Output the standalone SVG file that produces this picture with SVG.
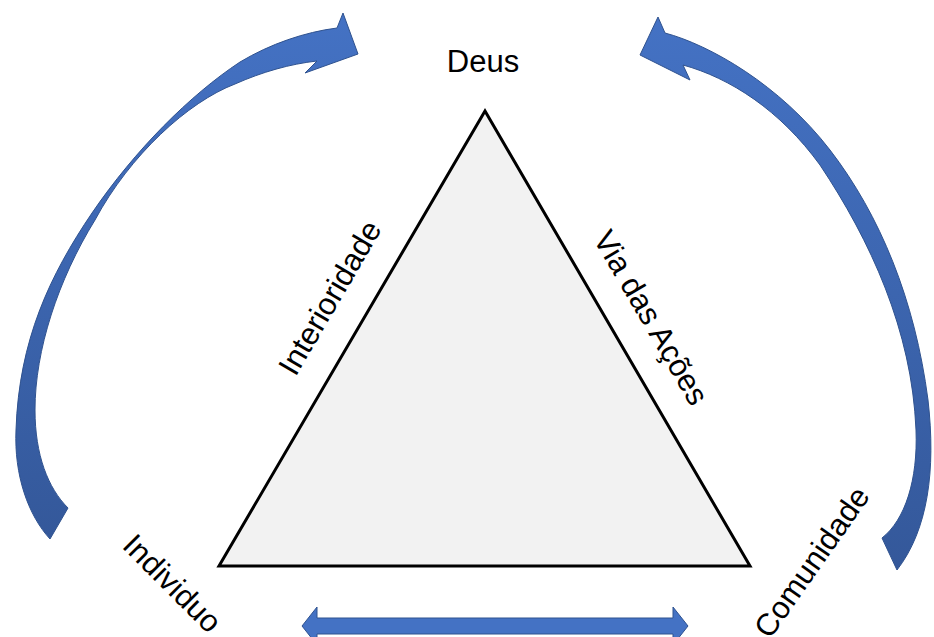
<svg xmlns="http://www.w3.org/2000/svg" width="934" height="637" viewBox="0 0 934 637">
  <defs>
    <linearGradient id="gL" x1="0" y1="0" x2="0" y2="1">
      <stop offset="0" stop-color="#4472C4"/>
      <stop offset="1" stop-color="#34589A"/>
    </linearGradient>
    <linearGradient id="gR" x1="0" y1="0" x2="0" y2="1">
      <stop offset="0" stop-color="#4472C4"/>
      <stop offset="1" stop-color="#34589A"/>
    </linearGradient>
  </defs>
  <style>
    .lbl { font-family: "Liberation Sans", Arial, sans-serif; font-size: 31px; fill: #000; }
    .tri { fill: #F2F2F2; stroke: #000; stroke-width: 3; stroke-linejoin: miter; }
    .arw { stroke: #2F528F; stroke-width: 1; stroke-linejoin: miter; }
  </style>
  <rect width="934" height="637" fill="#FFFFFF"/>

  <g id="triangle">
    <polygon class="tri" points="485,111 219,566 750,566"/>
  </g>

  <g id="connectors">
    <path id="arrow-left" class="arw" fill="url(#gL)" d="M 50,539 C 28,515 14,475 16,430 C 19,340 50,275 92,213 C 135,150 190,95 240,62 C 270,44 305,32 337,28 L 343,13 L 358,54 L 305,73 L 317,61 C 290,64 262,72 235,84 C 188,102 130,155 95,220 C 58,280 35,350 35,410 C 35,455 48,488 68,508 Z"/>
    <path id="arrow-right" class="arw" fill="url(#gR)" d="M 665,33 C 710,45 780,85 830,150 C 880,215 915,300 928,400 C 936,470 928,530 897,570 L 882,538 C 905,520 918,480 916,430 C 912,330 870,240 820,165 C 780,110 730,78 683,65 L 690,80 L 640,55 L 658,17 Z"/>
    <path id="arrow-bottom" class="arw" fill="#4472C4" d="M 302,626 L 317,607 L 317,618 L 673,618 L 673,607 L 688,626 L 673,645 L 673,634 L 317,634 L 317,645 Z"/>
  </g>

  <g id="node-deus">
    <text class="lbl" x="483" y="72" text-anchor="middle">Deus</text>
  </g>
  <g id="node-individuo">
    <text class="lbl" x="121" y="547" transform="rotate(45 121 547)">Individuo</text>
  </g>
  <g id="node-comunidade">
    <text class="lbl" x="770" y="640" transform="rotate(-55 770 640)">Comunidade</text>
  </g>
  <g id="label-interioridade">
    <text class="lbl" x="339" y="303" text-anchor="middle" transform="rotate(-59.7 339 303)">Interioridade</text>
  </g>
  <g id="label-via">
    <text class="lbl" x="642" y="323" text-anchor="middle" transform="rotate(59.7 642 323)">Via das Ações</text>
  </g>
</svg>
